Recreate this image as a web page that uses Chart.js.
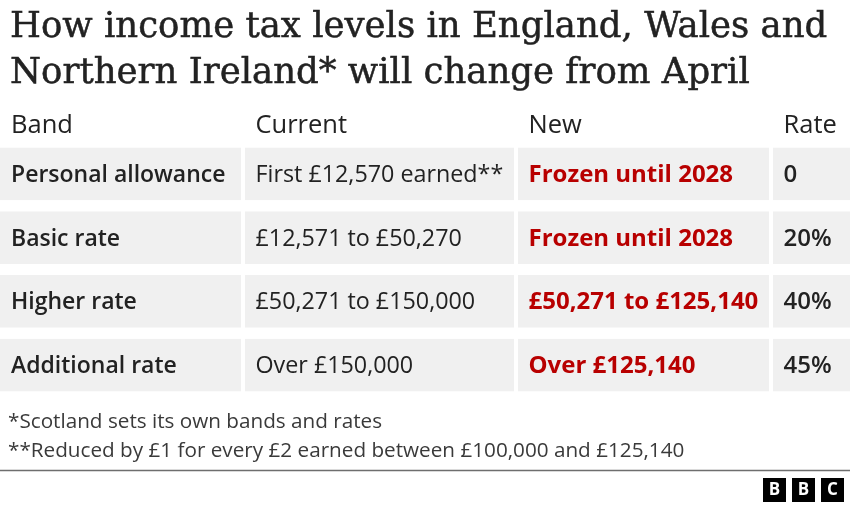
<!DOCTYPE html>
<html>
<head>
<meta charset="utf-8">
<script src="https://cdn.jsdelivr.net/npm/chart.js@4.4.1/dist/chart.umd.min.js"></script>
<style>
  html, body { margin: 0; padding: 0; background: #fff; }
  #wrap { width: 850px; height: 510px; }
</style>
</head>
<body>
<div id="wrap"><canvas id="taxTable" width="850" height="510"></canvas></div>
<script>
// table content
const titleLines = ['How income tax levels in England, Wales and', 'Northern Ireland* will change from April'];
const columns = ['Band', 'Current', 'New', 'Rate'];
const bands = ['Personal allowance', 'Basic rate', 'Higher rate', 'Additional rate'];
const current = ['First £12,570 earned**', '£12,571 to £50,270', '£50,271 to £150,000', 'Over £150,000'];
const proposed = ['Frozen until 2028', 'Frozen until 2028', '£50,271 to £125,140', 'Over £125,140'];
const rates = ['0', '20%', '40%', '45%'];
const footnotes = [
    '*Scotland sets its own bands and rates',
    '**Reduced by £1 for every £2 earned between £100,000 and £125,140'
];
const sourceMark = 'BBC';

// layout: column widths across the 850px canvas
const colWidths = [243, 273, 255, 79];
const cellText = [bands, current, proposed, rates];
const cellFonts = [
    { font: '600 23px', color: '#222' },
    { font: '400 23.3px', color: '#222' },
    { font: '700 24px', color: '#b80000' },
    { font: '600 24px', color: '#222' }
];
const SANS = '"Open Sans", sans-serif';
const SERIF = '"DejaVu Serif", serif';

const lastCol = colWidths.length - 1;
const datasets = colWidths.map((w, c) => ({
    label: columns[c],
    data: bands.map(() => w),
    backgroundColor: '#f0f0f0',
    borderColor: '#ffffff',
    borderWidth: { left: c === 0 ? 0 : 2, right: c === lastCol ? 0 : 2, top: 0, bottom: 0 },
    borderSkipped: false,
    barPercentage: 0.83,
    categoryPercentage: 1
}));

const tablePlugin = {
    id: 'tableText',
    afterDatasetsDraw(chart) {
        const ctx = chart.ctx;
        const yScale = chart.scales.y;
        ctx.save();

        // title (a thin stroke thickens the serif a little)
        ctx.fillStyle = '#222';
        ctx.strokeStyle = '#222';
        ctx.lineWidth = 0.5;
        ctx.textAlign = 'left';
        ctx.textBaseline = 'alphabetic';
        ctx.font = '35.5px ' + SERIF;
        titleLines.forEach((line, i) => {
            ctx.fillText(line, 10, 37 + i * 46);
            ctx.strokeText(line, 10, 37 + i * 46);
        });

        // header row + cells
        chart.data.datasets.forEach((ds, c) => {
            const meta = chart.getDatasetMeta(c);
            const x0 = meta.data[0].base + (c === 0 ? 11 : 12.5);
            ctx.font = '500 25.5px ' + SANS;
            ctx.fillStyle = '#222';
            ctx.fillText(columns[c], x0, 133);

            ctx.font = cellFonts[c].font + ' ' + SANS;
            ctx.fillStyle = cellFonts[c].color;
            meta.data.forEach((el, i) => {
                const cy = yScale.getPixelForValue(i);
                ctx.fillText(cellText[c][i], el.base + (c === 0 ? 11 : 12.5), cy + 8);
            });
        });

        // footnotes
        ctx.font = '20.7px ' + SANS;
        ctx.fillStyle = '#3a3a3a';
        footnotes.forEach((line, i) => ctx.fillText(line, 8, 428 + i * 29));

        // rule
        ctx.strokeStyle = '#6e6e6e';
        ctx.lineWidth = 1.5;
        ctx.beginPath();
        ctx.moveTo(0, 470.5);
        ctx.lineTo(850, 470.5);
        ctx.stroke();

        // logo blocks
        ctx.textAlign = 'center';
        ctx.textBaseline = 'middle';
        ctx.font = '700 17px ' + SANS;
        sourceMark.split('').forEach((ch, i) => {
            const bx = 763 + i * 29;
            ctx.fillStyle = '#000';
            ctx.fillRect(bx, 478, 23, 24);
            ctx.fillStyle = '#fff';
            ctx.fillText(ch, bx + 11.5, 490.5);
        });
        ctx.restore();
    }
};

new Chart(document.getElementById('taxTable'), {
    type: 'bar',
    data: { labels: bands, datasets: datasets },
    options: {
        indexAxis: 'y',
        responsive: false,
        animation: false,
        layout: { padding: { top: 142, bottom: 113, left: 0, right: 0 } },
        scales: {
            x: { type: 'linear', stacked: true, min: 0, max: 850, display: false },
            y: { stacked: true, display: false }
        },
        plugins: {
            legend: { display: false },
            title: { display: false },
            tooltip: { enabled: false }
        },
        events: []
    },
    plugins: [tablePlugin]
});
</script>
</body>
</html>
